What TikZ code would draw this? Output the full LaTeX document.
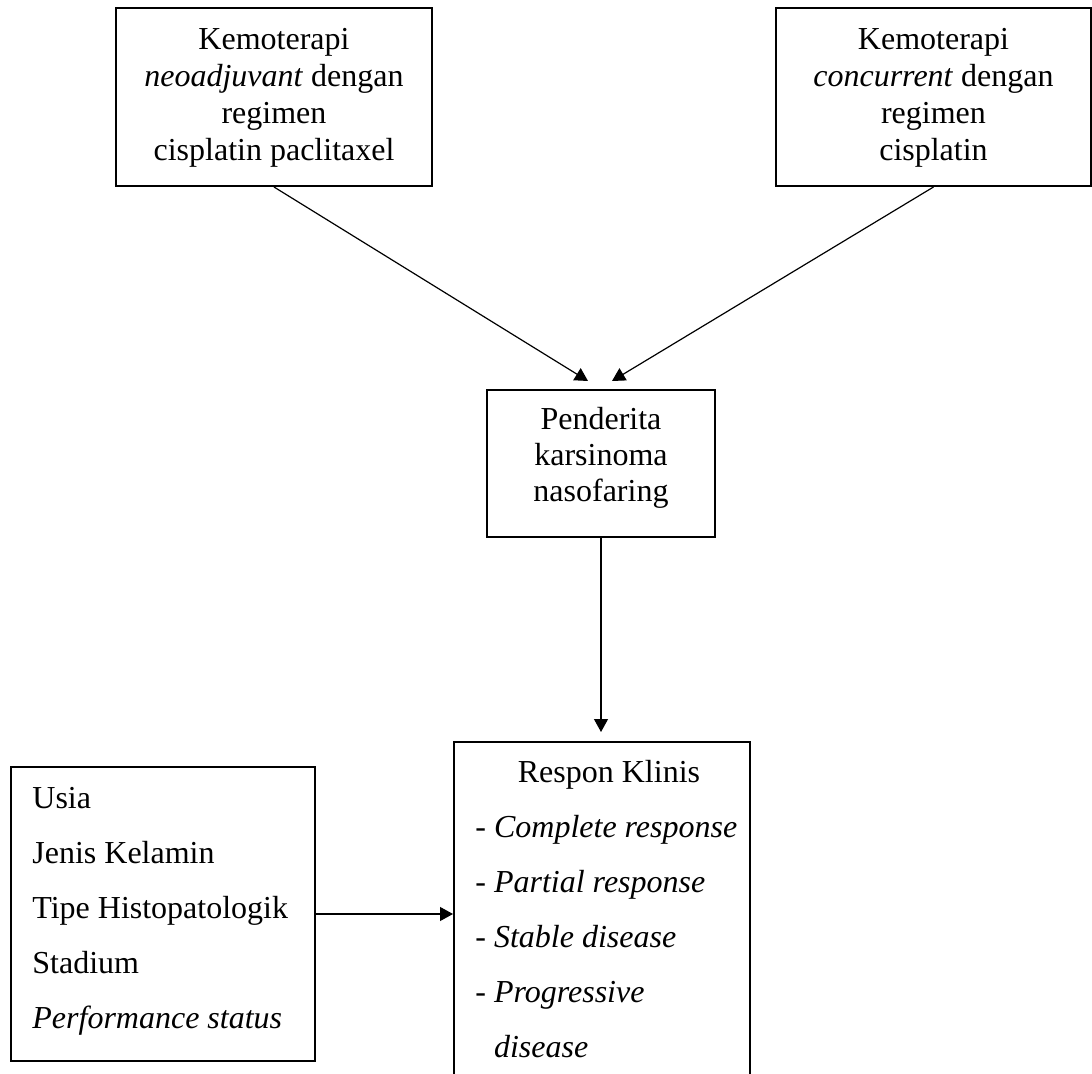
\documentclass[tikz,border=0pt]{standalone}
\usepackage{fontspec}
\setmainfont{Liberation Serif}
\usetikzlibrary{arrows.meta,calc}
\begin{document}
\begin{tikzpicture}[x=0.5pt,y=-0.5pt,
  box/.style={draw, line width=1pt, inner sep=0pt},
  txt/.style={inner sep=0pt, font=\fontsize{16}{18.5}\selectfont},
  arr/.style={line width=0.6pt, -{Triangle[length=6.5pt,width=7pt]}}]
\clip (0,0) rectangle (1092,1074);
\fill[white] (0,0) rectangle (1092,1074);
% top-left box
\node[box, minimum width=158pt, minimum height=89pt] (k1) at (274,97) {};
\node[txt, anchor=base] (k1a) at (274,50) {Kemoterapi};
\node[txt, anchor=base] (k1b) at (274,87) {\textit{neoadjuvant} dengan};
\node[txt, anchor=base] (k1c) at (274,124) {regimen};
\node[txt, anchor=base] (k1d) at (274,161) {cisplatin paclitaxel};
% top-right box
\node[box, minimum width=157.5pt, minimum height=89pt] (k2) at (933.5,97) {};
\node[txt, anchor=base] (k2a) at (933.5,50) {Kemoterapi};
\node[txt, anchor=base] (k2b) at (933.5,87) {\textit{concurrent} dengan};
\node[txt, anchor=base] (k2c) at (933.5,124) {regimen};
\node[txt, anchor=base] (k2d) at (933.5,161) {cisplatin};
% middle box
\node[box, minimum width=114pt, minimum height=73.5pt] (pk) at (601,463.5) {};
\node[txt, anchor=base] (pka) at (601,430) {Penderita};
\node[txt, anchor=base] (pkb) at (601,466) {karsinoma};
\node[txt, anchor=base] (pkc) at (601,502) {nasofaring};
% response box (open at the bottom)
\node[box, minimum width=148pt, minimum height=179pt] (rk) at (602,921) {};
\node[txt, anchor=base] (rka) at (609,782) {Respon Klinis};
\node[txt, anchor=base west] (rkb) at (475,837) {- \textit{Complete response}};
\node[txt, anchor=base west] (rkc) at (475,892) {- \textit{Partial response}};
\node[txt, anchor=base west] (rkd) at (475,947) {- \textit{Stable disease}};
\node[txt, anchor=base west] (rke) at (475,1002) {- \textit{Progressive}};
\node[txt, anchor=base west] (rkf) at (475,1057) {\phantom{- }\textit{disease}};
% left box
\node[box, minimum width=152pt, minimum height=147pt] (fk) at (163,914) {};
\node[txt, anchor=base west] (fka) at (32,808) {Usia};
\node[txt, anchor=base west] (fkb) at (32,863) {Jenis Kelamin};
\node[txt, anchor=base west] (fkc) at (32,918) {Tipe Histopatologik};
\node[txt, anchor=base west] (fkd) at (32,973) {Stadium};
\node[txt, anchor=base west] (fke) at (32,1028) {\textit{Performance status}};
% connectors
\coordinate (t1) at ($(pk.north)+(-13,-8)$);
\coordinate (t2) at ($(pk.north)+(11,-8)$);
\draw[arr] (k1.south) -- (t1);
\draw[arr] (k2.south) -- (t2);
\draw[arr, shorten >=4.5pt] (pk.south) -- (pk.south |- rk.north);
\draw[arr] (fk.east) -- (fk.east -| rk.west);
\end{tikzpicture}
\end{document}
